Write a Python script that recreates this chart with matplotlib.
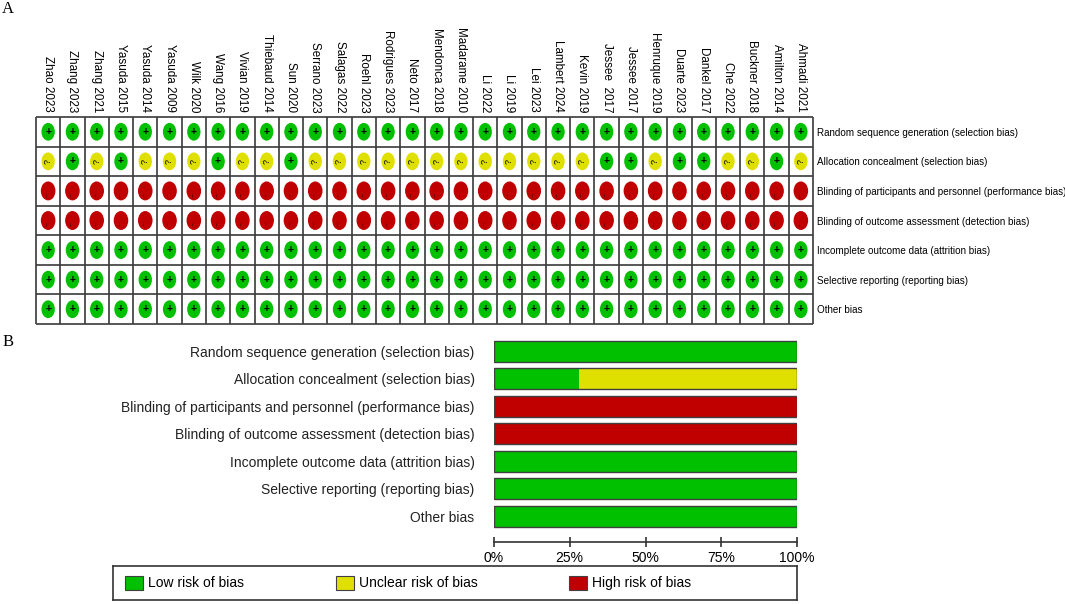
import numpy as np
import matplotlib
matplotlib.use("Agg")
import matplotlib.pyplot as plt
from matplotlib.patches import Ellipse, Patch

GREEN, YELLOW, RED = "#00c000", "#e0e000", "#c00000"
LINE = "#3a3a3a"
SANS = ["Liberation Sans", "DejaVu Sans"]
SERIF = ["Liberation Serif", "DejaVu Serif"]

studies = ["Zhao 2023", "Zhang 2023", "Zhang 2021", "Yasuda 2015", "Yasuda 2014",
           "Yasuda 2009", "Wilk 2020", "Wang 2016", "Vivian 2019", "Thiebaud 2014",
           "Sun 2020", "Serrano 2023", "Salagas 2022", "Roehl 2023", "Rodrigues 2023",
           "Neto 2017", "Mendonca 2018", "Madarame 2010", "Li 2022", "Li 2019",
           "Lei 2023", "Lambert 2024", "Kevin 2019", "Jessee  2017", "Jessee 2017",
           "Henruque 2019", "Duarte 2023", "Dankel 2017", "Che 2022", "Buckner 2018",
           "Amilton 2014", "Ahmadi 2021"]

domains = ["Random sequence generation (selection bias)",
           "Allocation concealment (selection bias)",
           "Blinding of participants and personnel (performance bias)",
           "Blinding of outcome assessment (detection bias)",
           "Incomplete outcome data (attrition bias)",
           "Selective reporting (reporting bias)",
           "Other bias"]

# one judgement per study, same order as `studies`  (+ low, ? unclear, - high)
random_sequence = "++++++++++++++++++++++++++++++++"
allocation      = "?+?+???+??+?????" "???????++?++??+?"
blinding_part   = "--------------------------------"
blinding_outc   = "--------------------------------"
incomplete      = "++++++++++++++++++++++++++++++++"
selective       = "++++++++++++++++++++++++++++++++"
other           = "++++++++++++++++++++++++++++++++"
judgements = [random_sequence, allocation, blinding_part, blinding_outc,
              incomplete, selective, other]

STYLE = {"+": (GREEN, "+"), "?": (YELLOW, "?"), "-": (RED, "\u2212")}

W, H = 1065, 604
fig = plt.figure(figsize=(W / 100, H / 100), dpi=100)


def box(l, t, r, b):
    return [l / W, 1 - b / H, (r - l) / W, (b - t) / H]


# ---------------------------------------------------------------- A. grid
ax = fig.add_axes(box(36, 117, 813, 324))
ns, nd = len(studies), len(domains)
for i, row in enumerate(judgements):
    for j, k in enumerate(row):
        fc, sym = STYLE[k]
        w, h = (0.6, 0.64) if k == "-" else (0.55, 0.6)
        ax.add_patch(Ellipse((j, i), w, h, facecolor=fc, edgecolor="none"))
        if k == "+":
            ax.text(j, i, sym, ha="center", va="center", fontsize=7.5,
                    fontweight="bold", color="black", family=SANS)
        elif k == "?":
            ax.text(j, i, sym, ha="center", va="center", fontsize=6.5,
                    rotation=90, color="black", family=SANS)
        else:
            ax.text(j, i + 0.12, sym, ha="center", va="center", fontsize=5,
                    rotation=90, color="#5a0000", family=SANS)
ax.vlines(np.arange(-0.5, ns), -0.5, nd - 0.5, color=LINE, lw=1.2, clip_on=False)
ax.hlines(np.arange(-0.5, nd), -0.5, ns - 0.5, color=LINE, lw=1.2, clip_on=False)
ax.set_xlim(-0.5, ns - 0.5)
ax.set_ylim(nd - 0.5, -0.5)
for s in ax.spines.values():
    s.set_visible(False)
ax.xaxis.tick_top()
ax.set_xticks(range(ns))
ax.set_xticklabels(studies, rotation=270, fontsize=8.4, family=SANS)
ax.yaxis.tick_right()
ax.set_yticks(range(nd))
ax.set_yticklabels(domains, fontsize=7.1, family=SANS)
ax.tick_params(axis="x", length=0, pad=3.5)
ax.tick_params(axis="y", length=0, pad=3)

# ---------------------------------------------------------------- B. bars
low = np.array([r.count("+") for r in judgements]) / ns * 100
unclear = np.array([r.count("?") for r in judgements]) / ns * 100
high = np.array([r.count("-") for r in judgements]) / ns * 100

bx = fig.add_axes(box(494, 337.5, 797, 541.7))
y = np.arange(nd)
bx.barh(y, low, height=0.76, color=GREEN, edgecolor="none")
bx.barh(y, unclear, left=low, height=0.76, color=YELLOW, edgecolor="none")
bx.barh(y, high, left=low + unclear, height=0.76, color=RED, edgecolor="none")
bx.barh(y, low + unclear + high, height=0.76, fill=False, edgecolor="#404040", lw=1)
bx.set_xlim(0, 100)
bx.set_ylim(nd - 0.5 + 0.43, -0.5)
for side in ("top", "right", "left"):
    bx.spines[side].set_visible(False)
bx.spines["bottom"].set_color("#333333")
bx.spines["bottom"].set_linewidth(1.2)
bx.set_xticks([0, 25, 50, 75, 100])
bx.set_xticklabels(["0%", "25%", "50%", "75%", "100%"], fontsize=10, family=SANS)
bx.tick_params(axis="x", direction="inout", length=7, width=1.2, color="#333333", pad=3)
bx.set_yticks(y)
bx.set_yticklabels(domains, fontsize=10, family=SANS, color="#222222")
bx.tick_params(axis="y", length=0, pad=14)

# ---------------------------------------------------------------- legend
lx = fig.add_axes(box(113, 566, 797, 600))
lx.set_xticks([]); lx.set_yticks([])
for s in lx.spines.values():
    s.set_color("#333333"); s.set_linewidth(1.2)
handles = [Patch(facecolor=c, edgecolor="#404040", lw=0.8) for c in (GREEN, YELLOW, RED)]
lx.legend(handles, ["Low risk of bias", "Unclear risk of bias", "High risk of bias"],
          loc="center left", bbox_to_anchor=(0.0, 0.5), ncol=3, frameon=False,
          prop={"family": SANS, "size": 10}, handlelength=1.3, handleheight=1.22,
          handletextpad=0.36, columnspacing=6.6, borderpad=0, borderaxespad=0.85)

fig.text(2 / W, 1 - 9 / H, "A", fontsize=12, family=SERIF, va="center", ha="left")
fig.text(3 / W, 1 - 342 / H, "B", fontsize=12, family=SERIF, va="center", ha="left")

fig.savefig("out.png", dpi=100)
